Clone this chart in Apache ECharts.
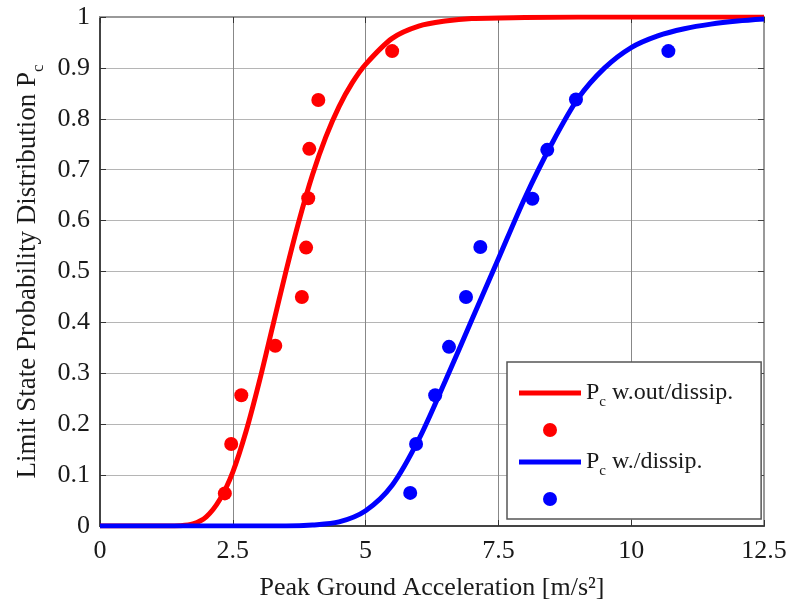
<!DOCTYPE html>
<html>
<head>
<meta charset="utf-8">
<script src="https://cdn.jsdelivr.net/npm/echarts@6/dist/echarts.min.js"></script>
<style>
  html, body { margin: 0; padding: 0; background: #fff; }
  #chart { width: 791px; height: 602px; }
</style>
</head>
<body>
<div id="chart"></div>
<script>
// fitted curve, without dissipation
const redCurveX = [0, 1.25, 1.5, 1.75, 2.0, 2.25, 2.5, 2.75, 3.0, 3.25, 3.5, 3.75, 4.0, 4.25, 4.5, 4.75, 5.0, 5.5, 6.0, 6.5, 7.0, 8.0, 9.0, 12.5];
const redCurveY = [0, 0, 0.0005, 0.004, 0.018, 0.051, 0.106, 0.186, 0.284, 0.392, 0.5, 0.601, 0.69, 0.764, 0.824, 0.871, 0.907, 0.958, 0.982, 0.992, 0.997, 0.999, 1, 1];
// measured points, without dissipation
const redPtsX = [2.35, 2.47, 2.66, 3.30, 3.80, 3.88, 3.92, 3.94, 4.11, 5.50];
const redPtsY = [0.064, 0.161, 0.257, 0.354, 0.450, 0.547, 0.644, 0.741, 0.837, 0.933];

// fitted curve, with dissipation
const blueCurveX = [0, 3.5, 4.0, 4.5, 5.0, 5.5, 6.0, 6.5, 7.0, 7.5, 8.0, 8.5, 9.0, 9.5, 10.0, 10.5, 11.0, 11.5, 12.0, 12.5];
const blueCurveY = [0, 0, 0.002, 0.008, 0.03, 0.08, 0.17, 0.285, 0.405, 0.525, 0.645, 0.75, 0.84, 0.9, 0.94, 0.963, 0.977, 0.986, 0.992, 0.996];
// measured points, with dissipation
const bluePtsX = [5.84, 5.95, 6.31, 6.57, 6.89, 7.16, 8.14, 8.42, 8.96, 10.70];
const bluePtsY = [0.065, 0.161, 0.257, 0.352, 0.450, 0.548, 0.643, 0.739, 0.838, 0.933];

const xTicks = [0, 2.5, 5, 7.5, 10, 12.5];
const seriesNames = ['Pc w.out/dissip.', ' ', 'Pc w./dissip.', '  '];

const FONT = '"Liberation Serif", "DejaVu Serif", serif';
const TEXT = '#1a1a1a';
const LINE_ICON = 'path://M0,0L62,0L62,5L0,5Z';

function pairs(xs, ys) {
  return xs.map((x, i) => [x, ys[i]]);
}

const chart = echarts.init(document.getElementById('chart'), null, { renderer: 'canvas' });

const option = {
  backgroundColor: '#fff',
  animation: false,
  grid: {
    left: 100,
    right: 27,
    top: 17,
    bottom: 76,
    outerBoundsMode: 'none',
    show: true,
    borderColor: '#999',
    borderWidth: 2,
    backgroundColor: '#fff'
  },
  legend: {
    orient: 'vertical',
    left: 507,
    top: 362,
    padding: [19, 28, 8, 12],
    itemGap: 8,
    itemWidth: 62,
    itemHeight: 14,
    backgroundColor: '#fff',
    borderColor: '#555',
    borderWidth: 1.5,
    borderRadius: 0,
    selectedMode: false,
    data: [
      { name: seriesNames[0], icon: LINE_ICON },
      { name: seriesNames[1], icon: 'circle' },
      { name: seriesNames[2], icon: LINE_ICON },
      { name: seriesNames[3], icon: 'circle' }
    ],
    formatter: function (name) {
      if (name.trim() === '') return '{t| }';
      return '{t|P}{s|c}{t|' + name.slice(2) + '}';
    },
    textStyle: {
      fontFamily: FONT,
      color: TEXT,
      rich: {
        t: { fontFamily: FONT, fontSize: 24, color: TEXT, lineHeight: 28 },
        s: { fontFamily: FONT, fontSize: 15, color: TEXT, lineHeight: 28, verticalAlign: 'bottom', padding: [0, 0, -3, 0] }
      }
    }
  },
  xAxis: [
    {
      type: 'value',
      min: 0,
      max: 12.5,
      interval: 2.5,
      name: 'Peak Ground Acceleration [m/s²]',
      nameLocation: 'middle',
      nameGap: 49,
      nameTextStyle: { fontFamily: FONT, fontSize: 26, color: TEXT },
      axisLine: { show: true, onZero: false, lineStyle: { color: '#444', width: 2 } },
      axisTick: { inside: true, length: 6, lineStyle: { color: '#333' } },
      axisLabel: {
        fontFamily: FONT, fontSize: 26, color: TEXT, margin: 12,
        formatter: v => (xTicks.includes(v) ? String(v) : '')
      },
      splitLine: { show: true, lineStyle: { color: '#888', width: 1 } }
    },
    {
      type: 'value',
      position: 'top',
      min: 0,
      max: 12.5,
      interval: 2.5,
      axisLine: { show: true, onZero: false, lineStyle: { color: '#999', width: 2 } },
      axisTick: { show: true, inside: true, length: 6, lineStyle: { color: '#333' } },
      axisLabel: { show: false },
      splitLine: { show: false }
    }
  ],
  yAxis: [
    {
      type: 'value',
      min: 0,
      max: 1,
      interval: 0.1,
      name: '{a|Limit State Probability Distribution P}{b|c}',
      nameLocation: 'middle',
      nameGap: 56,
      nameTextStyle: {
        fontFamily: FONT, fontSize: 27, color: TEXT,
        rich: {
          a: { fontFamily: FONT, fontSize: 27, color: TEXT, lineHeight: 30 },
          b: { fontFamily: FONT, fontSize: 17, color: TEXT, lineHeight: 30, verticalAlign: 'bottom', padding: [0, 0, -4, 0] }
        }
      },
      axisLine: { show: true, onZero: false, lineStyle: { color: '#444', width: 2 } },
      axisTick: { inside: true, length: 6, lineStyle: { color: '#333' } },
      axisLabel: {
        fontFamily: FONT, fontSize: 26, color: TEXT, margin: 10,
        formatter: v => String(Math.round(v * 10) / 10)
      },
      splitLine: { show: true, lineStyle: { color: '#b5b5b5', width: 1 } }
    },
    {
      type: 'value',
      position: 'right',
      min: 0,
      max: 1,
      interval: 0.1,
      axisLine: { show: true, onZero: false, lineStyle: { color: '#999', width: 2 } },
      axisTick: { show: true, inside: true, length: 6, lineStyle: { color: '#444' } },
      axisLabel: { show: false },
      splitLine: { show: false }
    }
  ],
  series: [
    {
      name: seriesNames[0],
      type: 'line',
      data: pairs(redCurveX, redCurveY),
      smooth: 0.3,
      symbol: 'none',
      lineStyle: { color: '#ff0000', width: 5 },
      itemStyle: { color: '#ff0000' },
      z: 3
    },
    {
      name: seriesNames[1],
      type: 'scatter',
      data: pairs(redPtsX, redPtsY),
      symbol: 'circle',
      symbolSize: 14,
      itemStyle: { color: '#ff0000', opacity: 1 },
      z: 4
    },
    {
      name: seriesNames[2],
      type: 'line',
      data: pairs(blueCurveX, blueCurveY),
      smooth: 0.3,
      symbol: 'none',
      lineStyle: { color: '#0000ff', width: 5 },
      itemStyle: { color: '#0000ff' },
      z: 3
    },
    {
      name: seriesNames[3],
      type: 'scatter',
      data: pairs(bluePtsX, bluePtsY),
      symbol: 'circle',
      symbolSize: 14,
      itemStyle: { color: '#0000ff', opacity: 1 },
      z: 4
    }
  ]
};

chart.setOption(option);
</script>
</body>
</html>
